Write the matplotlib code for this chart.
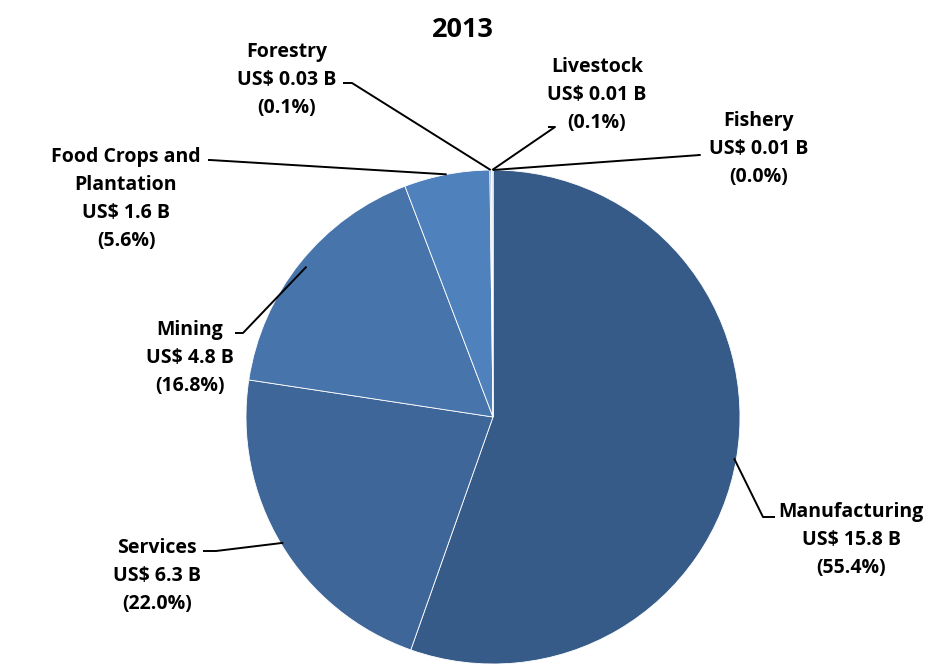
import numpy as np
import matplotlib.pyplot as plt

# data
sectors = ['Manufacturing', 'Services', 'Mining', 'Food Crops and\nPlantation',
           'Forestry', 'Livestock', 'Fishery']
values_usd = ['15.8', '6.3', '4.8', '1.6', '0.03', '0.01', '0.01']
shares = [55.4, 22.0, 16.8, 5.6, 0.1, 0.1, 0.0]
colors = ['#375b88', '#3e6699', '#4774ab', '#4f81bd', '#8aa8cf', '#b5c7df', '#c9d6e8']

W, H = 951, 671
cx, cy, rad = 493, 417, 247

plt.rcParams['font.family'] = ['Open Sans', 'DejaVu Sans']

fig = plt.figure(figsize=(W / 100, H / 100), dpi=100)
ax = fig.add_axes([0, 0, 1, 1])

wedges, _ = ax.pie(shares, colors=colors, startangle=90, counterclock=False,
                   center=(cx, H - cy), radius=rad,
                   wedgeprops=dict(edgecolor='white', linewidth=0.6))
ax.set_xlim(0, W)
ax.set_ylim(0, H)
ax.set_aspect('equal')
ax.axis('off')

# label layout in pixel coords: text centre, then leader points from pie outward
layout = [
    ((851, 540), [(763, 517), (775, 517)], 0.99),
    ((157, 576), [(216, 551), (203, 551)], 0.99),
    ((190, 358), [(243, 333), (235, 333)], 0.97),
    ((126, 199), [(210, 160), (208, 160)], 1.0),
    ((287, 80), [(352, 83), (343, 83)], 1.0),
    ((597, 95), [(555, 127), (548, 127)], 1.0),
    ((759, 149), [(700, 155), (698, 155)], 1.0),
]

for w, name, val, pct, (txt, pts, k) in zip(wedges, sectors, values_usd, shares, layout):
    ang = np.deg2rad((w.theta1 + w.theta2) / 2)
    ax_x = cx + rad * k * np.cos(ang)
    ax_y = (H - cy) + rad * k * np.sin(ang)
    xs = [ax_x] + [p[0] for p in pts]
    ys = [ax_y] + [H - p[1] for p in pts]
    ax.plot(xs, ys, color='black', lw=1.4, solid_capstyle='butt')
    label = '%s\nUS$ %s B\n(%.1f%%)' % (name, val, pct)
    ax.text(txt[0], H - txt[1], label, ha='center', va='center',
            fontsize=14, fontweight='bold', linespacing=1.55)

ax.text(463, H - 30, '2013', ha='center', va='center', fontsize=19.5, fontweight='bold')

fig.savefig('out.png', dpi=100)
